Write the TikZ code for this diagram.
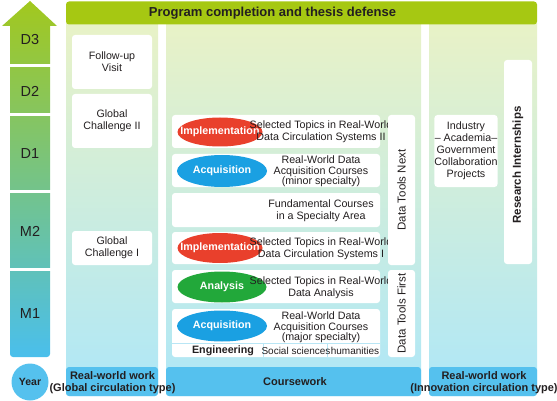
\documentclass[tikz,border=0pt]{standalone}
\usepackage{fontspec}
\setmainfont{Liberation Sans}
\usetikzlibrary{shapes.geometric}
\definecolor{lime}{RGB}{166,200,18}
\definecolor{arrtop}{RGB}{162,200,30}
\definecolor{arrmid}{RGB}{118,196,112}
\definecolor{arrbot}{RGB}{74,191,236}
\definecolor{bgtop}{RGB}{233,242,198}
\definecolor{bgbot}{RGB}{174,231,248}
\definecolor{barblue}{RGB}{85,193,238}
\definecolor{ered}{RGB}{233,64,44}
\definecolor{eblue}{RGB}{26,160,226}
\definecolor{egreen}{RGB}{34,168,58}
\definecolor{ink}{RGB}{35,31,32}
\definecolor{divider}{RGB}{185,230,245}
\tikzset{
  box/.style={fill=white, rounded corners=3pt, inner sep=0pt, draw=none, text=ink,
    font=\fontsize{10.7}{12}\selectfont, align=center},
  txt/.style={inner sep=0pt, text=ink, align=center, font=\fontsize{10.7}{12}\selectfont},
  txtthree/.style={inner sep=0pt, text=ink, align=center, font=\fontsize{10.7}{10.5}\selectfont},
  ell/.style={ellipse, inner sep=0pt, draw=none},
  elltxt/.style={inner sep=0pt, text=white, font=\bfseries\fontsize{10.7}{12}\selectfont},
  bar/.style={fill=barblue, rounded corners=3pt, inner sep=0pt, draw=none},
  bartxt/.style={inner sep=0pt, text=ink, align=center, font=\bfseries\fontsize{11}{12}\selectfont},
  yeartxt/.style={text=ink, font=\fontsize{14.5}{16}\selectfont, inner sep=0pt},
  vtxt/.style={inner sep=0pt, text=ink, rotate=90, font=\fontsize{11.5}{12}\selectfont},
  colbg/.style={rounded corners=3pt, top color=bgtop, bottom color=bgbot, draw=none}
}
\begin{document}
\begin{tikzpicture}[x=1pt,y=-1pt]
\useasboundingbox (0,0) rectangle (557,401);
% year arrow
\shade[top color=arrtop, middle color=arrmid, bottom color=arrbot]
  (30,1) -- (57,26) -- (50,26) -- (50,354) arc[start angle=0,end angle=90,radius=3] -- (13,357)
  arc[start angle=90,end angle=180,radius=3] -- (10,26) -- (2,26) -- cycle;
\foreach \y in {64,113,190,268} \fill[white] (0,\y) rectangle (60,\y+3);
\node[yeartxt] (d3) at (30,40) {D3};
\node[yeartxt] (d2) at (30,91) {D2};
\node[yeartxt] (d1) at (30,154) {D1};
\node[yeartxt] (m2) at (30,231) {M2};
\node[yeartxt] (m1) at (30,314) {M1};
\node[circle, fill=barblue, minimum size=37pt, inner sep=0pt, text=ink, font=\bfseries\fontsize{10.5}{12}\selectfont] (year) at (30,382) {Year};
% column backgrounds
\shade[colbg] (66,20) rectangle (158,396);
\shade[colbg] (166,20) rectangle (421,396);
\shade[colbg] (429,20) rectangle (537,396);
% top bar
\node[fill=lime, rounded corners=3pt, minimum width=471pt, minimum height=23pt, inner sep=0pt] (top) at (301.5,13) {};
\node[inner sep=0pt, text=ink, font=\bfseries\fontsize{13}{14}\selectfont] (toptxt) at (272.5,13) {Program completion and thesis defense};
% left column
\node[box, minimum width=80pt, minimum height=54pt] (fv) at (112,62) {Follow-up\\Visit};
\node[box, minimum width=80pt, minimum height=54pt] (gc2) at (112,121) {Global\\Challenge II};
\node[box, minimum width=80pt, minimum height=34pt] (gc1) at (112,248) {Global\\Challenge I};
% middle column boxes
\node[box, minimum width=208pt, minimum height=33pt] (b1) at (276,131.5) {};
\node[box, minimum width=208pt, minimum height=33pt] (b2) at (276,170.5) {};
\node[box, minimum width=208pt, minimum height=34pt] (b3) at (276,210) {};
\node[box, minimum width=208pt, minimum height=32pt] (b4) at (276,248) {};
\node[box, minimum width=208pt, minimum height=33pt] (b5) at (276,286.5) {};
\node[box, minimum width=208pt, minimum height=48pt] (b6) at (276,333) {};
\coordinate (rl) at (172,343.5);
\coordinate (rr) at (380,343.5);
\coordinate (c1t) at (263,343.5);
\coordinate (c1b) at (263,357);
\coordinate (c2t) at (327,343.5);
\coordinate (c2b) at (327,357);
\draw[divider, line width=1pt] (rl) -- (rr);
\draw[divider, line width=1pt] (c1t) -- (c1b);
\draw[divider, line width=1pt] (c2t) -- (c2b);
% ellipses
\node[ell, fill=ered, minimum width=85pt, minimum height=29pt] (impl2) at (220,132) {};
\node[elltxt] (impl2t) at (impl2) {Implementation};
\node[ell, fill=eblue, minimum width=90pt, minimum height=32pt] (acq2) at (222,171) {};
\node[elltxt] (acq2t) at (acq2) {Acquisition};
\node[ell, fill=ered, minimum width=85pt, minimum height=30pt] (impl1) at (220,248) {};
\node[elltxt] (impl1t) at (impl1) {Implementation};
\node[ell, fill=egreen, minimum width=89pt, minimum height=31pt] (ana) at (222,287) {};
\node[elltxt] (anat) at (ana) {Analysis};
\node[ell, fill=eblue, minimum width=90pt, minimum height=31pt] (acq1) at (222,326) {};
\node[elltxt] (acq1t) at (acq1) {Acquisition};
% middle texts
\node[txt] (t1) at (321,132) {Selected Topics in Real-World\\Data Circulation Systems II};
\node[txtthree] (t2) at (321,171.5) {Real-World Data\\Acquisition Courses\\(minor specialty)};
\node[txt] (t3) at (321,210.5) {Fundamental Courses\\in a Specialty Area};
\node[txt] (t4) at (321,249) {Selected Topics in Real-World\\Data Circulation Systems I};
\node[txt] (t5) at (321,288) {Selected Topics in Real-World\\Data Analysis};
\node[txtthree] (t6) at (321,327.5) {Real-World Data\\Acquisition Courses\\(major specialty)};
\node[txt, font=\bfseries\fontsize{10.7}{12}\selectfont] (eng) at (223,351) {Engineering};
\node[txt, font=\fontsize{10}{12}\selectfont] (soc) at (296,351) {Social sciences};
\node[txt, font=\fontsize{10}{12}\selectfont] (hum) at (355,351) {humanities};
% data tools
\node[box, minimum width=27pt, minimum height=150pt] (dtn) at (401.5,190) {};
\node[vtxt] (dtntxt) at (401.5,190) {Data Tools Next};
\node[box, minimum width=27pt, minimum height=87pt] (dtf) at (401.5,313.5) {};
\node[vtxt] (dtftxt) at (401.5,313.5) {Data Tools First};
% right column
\node[box, minimum width=62pt, minimum height=72pt] (ind) at (466,151) {Industry\\– Academia–\\Government\\Collaboration\\Projects};
\node[box, minimum width=28pt, minimum height=204pt] (ri) at (518,162) {};
\node[vtxt, font=\bfseries\fontsize{11.5}{12}\selectfont] (ritxt) at (518,165) {Research Internships};
% bottom bars
\node[bar, minimum width=92pt, minimum height=29pt] (barL) at (112,381.5) {};
\node[bar, minimum width=255pt, minimum height=29pt] (barM) at (293.5,381.5) {};
\node[bar, minimum width=108pt, minimum height=29pt] (barR) at (483,381.5) {};
\node[bartxt] (barLt) at (112.5,383) {Real-world work\\(Global circulation type)};
\node[bartxt] (barMt) at (295,382) {Coursework};
\node[bartxt] (barRt) at (484,383) {Real-world work\\(Innovation circulation type)};
\end{tikzpicture}
\end{document}
